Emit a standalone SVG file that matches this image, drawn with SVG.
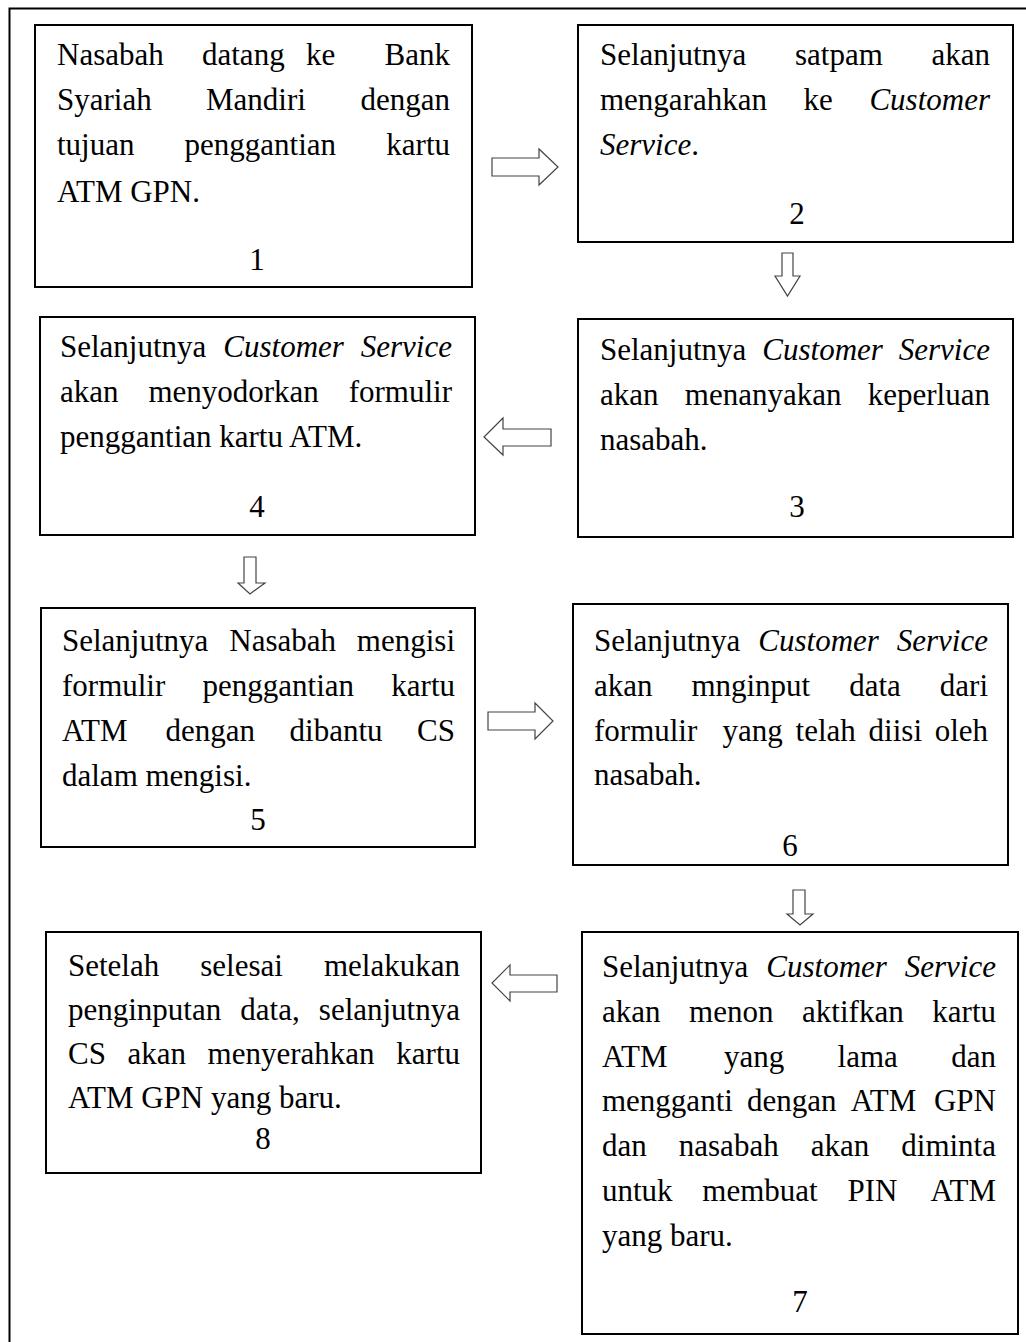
<svg xmlns="http://www.w3.org/2000/svg" width="1026" height="1342" viewBox="0 0 1026 1342">
<style>
.box{fill:#fff;stroke:#000;stroke-width:2}
.frame{fill:none;stroke:#000;stroke-width:2}
.arr{fill:#fff;stroke:#444;stroke-width:1.2;stroke-linejoin:miter}
text{font-family:"Liberation Serif","Times New Roman",serif;font-size:31px;fill:#000}
.i{font-style:italic}
.e{text-anchor:end}
.m{text-anchor:middle}
</style>
<rect width="1026" height="1342" fill="#fff"/>
<rect class="frame" x="9.5" y="8.5" width="1040" height="1400"/>

<g id="connectors">
<polygon class="arr" points="492,158 539,158 539,149 558,167 539,185 539,176 492,176"/>
<polygon class="arr" points="782,253 793,253 793,276 800,276 787.5,296 775,276 782,276"/>
<polygon class="arr" points="551,429 503,429 503,418 484,437 503,455 503,446 551,446"/>
<polygon class="arr" points="244,557 256,557 256,583 265,583 250,594 238,583 244,583"/>
<polygon class="arr" points="488,712 535,712 535,703 553,721 535,739 535,730 488,730"/>
<polygon class="arr" points="793,890 805,890 805,914 813,914 800,925 787,914 793,914"/>
<polygon class="arr" points="557,975 510,975 510,965 492,983 510,1001 510,992 557,992"/>
</g>

<g id="node1">
<rect class="box" x="35" y="25" width="437" height="262"/>
<text y="65"><tspan x="57">Nasabah</tspan><tspan x="202">datang</tspan><tspan x="306">ke</tspan></text>
<text class="e" x="450" y="65">Bank</text>
<text y="110"><tspan x="57">Syariah</tspan><tspan x="206">Mandiri</tspan></text>
<text class="e" x="450" y="110">dengan</text>
<text y="155"><tspan x="57">tujuan</tspan><tspan x="184.6">penggantian</tspan></text>
<text class="e" x="450" y="155">kartu</text>
<text x="57" y="202">ATM GPN.</text>
<text class="m" x="257" y="270">1</text>
</g>

<g id="node2">
<rect class="box" x="578" y="25" width="435" height="217"/>
<text y="65"><tspan x="600">Selanjutnya</tspan><tspan x="795">satpam</tspan></text>
<text class="e" x="990" y="65">akan</text>
<text y="110"><tspan x="600">mengarahkan</tspan><tspan x="803.5">ke</tspan></text>
<text class="e i" x="990" y="110">Customer</text>
<text x="600" y="155"><tspan class="i">Service</tspan>.</text>
<text class="m" x="797" y="224">2</text>
</g>

<g id="node3">
<rect class="box" x="578" y="319" width="435" height="218"/>
<text y="360"><tspan x="600">Selanjutnya</tspan><tspan x="762.3" class="i">Customer</tspan></text>
<text class="e i" x="990" y="360">Service</text>
<text y="405"><tspan x="600">akan</tspan><tspan x="684.8">menanyakan</tspan></text>
<text class="e" x="990" y="405">keperluan</text>
<text x="600" y="450">nasabah.</text>
<text class="m" x="797" y="517">3</text>
</g>

<g id="node4">
<rect class="box" x="40" y="317" width="435" height="218"/>
<text y="357"><tspan x="60">Selanjutnya</tspan><tspan x="223.3" class="i">Customer</tspan></text>
<text class="e i" x="452" y="357">Service</text>
<text y="402"><tspan x="60">akan</tspan><tspan x="148.4">menyodorkan</tspan></text>
<text class="e" x="452" y="402">formulir</text>
<text x="60" y="447">penggantian kartu ATM.</text>
<text class="m" x="257" y="517">4</text>
</g>

<g id="node5">
<rect class="box" x="41" y="608" width="434" height="239"/>
<text y="651"><tspan x="62">Selanjutnya</tspan><tspan x="229.3">Nasabah</tspan></text>
<text class="e" x="455" y="651">mengisi</text>
<text y="696"><tspan x="62">formulir</tspan><tspan x="202.6">penggantian</tspan></text>
<text class="e" x="455" y="696">kartu</text>
<text y="741"><tspan x="62">ATM</tspan><tspan x="165.5">dengan</tspan><tspan x="289.6">dibantu</tspan></text>
<text class="e" x="455" y="741">CS</text>
<text x="62" y="786">dalam mengisi.</text>
<text class="m" x="258" y="830">5</text>
</g>

<g id="node6">
<rect class="box" x="573" y="604" width="435" height="261"/>
<text y="651"><tspan x="594">Selanjutnya</tspan><tspan x="758.3" class="i">Customer</tspan></text>
<text class="e i" x="988" y="651">Service</text>
<text y="696"><tspan x="594">akan</tspan><tspan x="691.4">mnginput</tspan><tspan x="849.2">data</tspan></text>
<text class="e" x="988" y="696">dari</text>
<text y="741"><tspan x="594">formulir</tspan><tspan x="722.6">yang</tspan><tspan x="795.6">telah</tspan><tspan x="868.6">diisi</tspan></text>
<text class="e" x="988" y="741">oleh</text>
<text x="594" y="785">nasabah.</text>
<text class="m" x="790" y="856">6</text>
</g>

<g id="node7">
<rect class="box" x="582" y="932" width="436" height="402"/>
<text y="977"><tspan x="602">Selanjutnya</tspan><tspan x="766.3" class="i">Customer</tspan></text>
<text class="e i" x="996" y="977">Service</text>
<text y="1022"><tspan x="602">akan</tspan><tspan x="689.1">menon</tspan><tspan x="802.1">aktifkan</tspan></text>
<text class="e" x="996" y="1022">kartu</text>
<text y="1067"><tspan x="602">ATM</tspan><tspan x="724.1">yang</tspan><tspan x="837.6">lama</tspan></text>
<text class="e" x="996" y="1067">dan</text>
<text y="1111"><tspan x="602">mengganti</tspan><tspan x="747.1">dengan</tspan><tspan x="850.8">ATM</tspan></text>
<text class="e" x="996" y="1111">GPN</text>
<text y="1156"><tspan x="602">dan</tspan><tspan x="678.8">nasabah</tspan><tspan x="810.7">akan</tspan></text>
<text class="e" x="996" y="1156">diminta</text>
<text y="1201"><tspan x="602">untuk</tspan><tspan x="702.3">membuat</tspan><tspan x="847.4">PIN</tspan></text>
<text class="e" x="996" y="1201">ATM</text>
<text x="602" y="1246">yang baru.</text>
<text class="m" x="800" y="1312">7</text>
</g>

<g id="node8">
<rect class="box" x="46" y="932" width="435" height="241"/>
<text y="976"><tspan x="68">Setelah</tspan><tspan x="200.3">selesai</tspan></text>
<text class="e" x="460" y="976">melakukan</text>
<text y="1020"><tspan x="68">penginputan</tspan><tspan x="240.3">data,</tspan></text>
<text class="e" x="460" y="1020">selanjutnya</text>
<text y="1064"><tspan x="68">CS</tspan><tspan x="127.5">akan</tspan><tspan x="207.6">menyerahkan</tspan></text>
<text class="e" x="460" y="1064">kartu</text>
<text x="68" y="1108">ATM GPN yang baru.</text>
<text class="m" x="263" y="1149">8</text>
</g>
</svg>
